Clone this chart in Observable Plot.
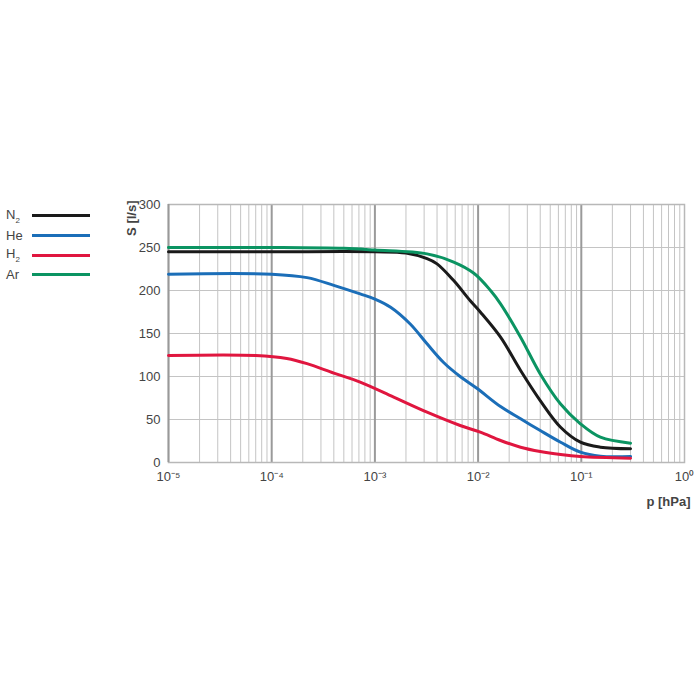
<!DOCTYPE html>
<html><head><meta charset="utf-8">
<script src="https://cdn.jsdelivr.net/npm/d3@7"></script>
<script src="https://cdn.jsdelivr.net/npm/@observablehq/plot@0.6"></script>
<style>
body{margin:0;background:#fff;font-family:"Liberation Sans",Arial,sans-serif;}
#wrap{position:relative;width:700px;height:700px;}
#legend{position:absolute;left:6px;top:206px;font-size:13px;color:#444;}
.row{display:flex;align-items:center;height:19.7px;}
.row span.l{width:26px;}
.row span.k{display:inline-block;width:58px;height:3px;}
sub{font-size:8px;}
</style></head>
<body><div id="wrap"><div id="legend"></div></div>
<script>
const series = ["N2", "He", "H2", "Ar"];
const seriesLabels = ["N<sub>2</sub>", "He", "H<sub>2</sub>", "Ar"];
const colors = ["#1a1a1a", "#1b6eb8", "#e0163f", "#0b9462"];

const n2P = [1e-5, 1e-4, 1e-3, 0.002, 0.0032, 0.004, 0.0058, 0.0084, 0.0105, 0.0165, 0.0258, 0.040, 0.063, 0.098, 0.153, 0.3];
const n2S = [245, 245, 245, 243.5, 237, 231, 211.5, 188, 175, 145.7, 107, 72, 41, 23.6, 17.8, 16];
const heP = [1e-5, 1e-4, 2.2e-4, 4e-4, 7.2e-4, 1e-3, 0.00142, 0.0022, 0.0032, 0.00466, 0.0067, 0.0098, 0.0165, 0.0258, 0.040, 0.063, 0.098, 0.153, 0.3];
const heS = [219, 219, 215, 206, 196, 190, 180.5, 161, 138, 116, 100, 86, 65, 50.8, 37.2, 23.6, 12, 7.3, 7];
const h2P = [1e-5, 7e-5, 1.4e-4, 2.2e-4, 4e-4, 7.2e-4, 0.00152, 0.0032, 0.0067, 0.0105, 0.0165, 0.0258, 0.040, 0.063, 0.098, 0.3];
const h2S = [124.5, 124.5, 121, 115, 104, 93.4, 76, 58.5, 43, 35.3, 25.6, 17.8, 12.8, 9.3, 7, 5];
const arP = [1e-5, 1e-4, 5e-4, 1e-3, 0.0032, 0.0058, 0.0091, 0.0132, 0.0165, 0.0258, 0.040, 0.063, 0.098, 0.153, 0.3];
const arS = [250, 250, 249, 247, 242.6, 233, 220, 200, 184.5, 145.7, 103, 68, 45, 29.4, 22.5];

const decades = [1e-5, 1e-4, 1e-3, 1e-2, 1e-1, 1];
const decadeLabels = ["10⁻⁵", "10⁻⁴", "10⁻³", "10⁻²", "10⁻¹", "10⁰"];
const yTicks = [0, 50, 100, 150, 200, 250, 300];
const minorMultipliers = [2, 3, 4, 5, 6, 7, 8, 9];

const minorTicks = decades.slice(0, -1).flatMap(d => minorMultipliers.map(m => m * d));
const pts = [[n2P, n2S], [heP, heS], [h2P, h2S], [arP, arS]];
const data = pts.flatMap(([P, S], i) => P.map((p, j) => ({gas: series[i], p, s: S[j]})));

const chart = Plot.plot({
  width: 700, height: 700,
  marginLeft: 168, marginRight: 16, marginTop: 204, marginBottom: 238,
  style: {fontFamily: '"Liberation Sans", Arial, sans-serif', fontSize: "13px", color: "#444", background: "white"},
  x: {type: "log", domain: [1e-5, 1]},
  y: {domain: [0, 300]},
  color: {domain: series, range: colors},
  marks: [
    Plot.ruleX(minorTicks, {stroke: "#c4c4c4", strokeWidth: 1}),
    Plot.ruleY(yTicks, {stroke: "#c4c4c4", strokeWidth: 1}),
    Plot.ruleX(decades.slice(1, -1), {stroke: "#9a9a9a", strokeWidth: 2}),
    Plot.frame({stroke: "#b8b8b8", strokeWidth: 1.5}),
    Plot.ruleX([1e-5], {stroke: "#999", strokeWidth: 2}),
    Plot.line(data, {x: "p", y: "s", z: "gas", stroke: "gas", strokeWidth: 3, curve: "catmull-rom"}),
    Plot.axisX(decades, {tickFormat: d => decadeLabels[decades.indexOf(d)], tickSize: 0, tickPadding: 9, label: null, fill: "#444"}),
    Plot.axisY(yTicks, {tickSize: 0, tickPadding: 8, label: null, fill: "#444"}),
    Plot.text(["S [l/s]"], {frameAnchor: "top-left", rotate: -90, textAnchor: "end", dx: -42, dy: -4, fontWeight: "bold", fill: "#444", fontSize: 13}),
    Plot.text(["p [hPa]"], {frameAnchor: "bottom-right", textAnchor: "end", dx: 6, dy: 34, lineAnchor: "top", fontWeight: "bold", fill: "#444", fontSize: 13})
  ]
});
document.getElementById("wrap").appendChild(chart);

const legend = document.getElementById("legend");
series.forEach((s, i) => {
  const row = document.createElement("div");
  row.className = "row";
  row.innerHTML = `<span class="l">${seriesLabels[i]}</span><span class="k" style="background:${colors[i]}"></span>`;
  legend.appendChild(row);
});
</script>
</body></html>
